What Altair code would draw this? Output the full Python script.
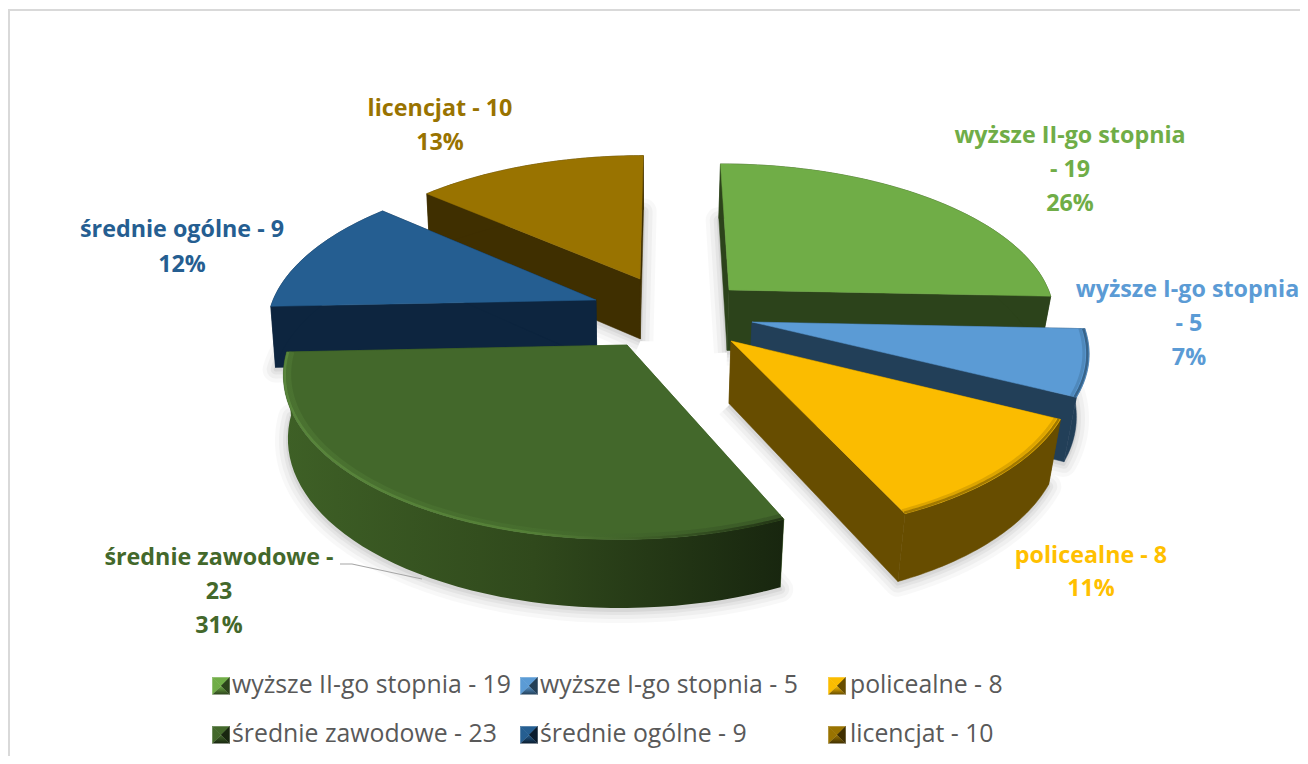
import math
import altair as alt
import pandas as pd

# --- chart values ---
categories = ["wyższe II-go stopnia", "wyższe I-go stopnia", "policealne",
              "średnie zawodowe", "średnie ogólne", "licencjat"]
values = [19, 5, 8, 23, 9, 10]
percents = ["26%", "7%", "11%", "31%", "12%", "13%"]
top_colors = ["#70AD47", "#5B9BD5", "#FBBC00", "#43682B", "#255E91", "#997300"]
text_colors = ["#70AD47", "#5B9BD5", "#FFC000", "#43682B", "#255E91", "#997300"]
wall_colors = ["#2C431B", "#223F58", "#674D00", "#3A5A21", "#0D253F", "#3F2F00"]
key_dark = ["#2C431B", "#223F58", "#674D00", "#18260F", "#0A1C2E", "#3F2F00"]
# exploded wedge apex on the screen, one per category
apex_x = [729, 752, 731, 627, 596, 640]
apex_y = [290, 322, 341, 345, 300, 279]
paint_order = [5, 4, 0, 1, 2, 3]

label_lines = [
    ("licencjat - 10", 440, 108.5, 5), ("13%", 440, 142.5, 5),
    ("wyższe II-go stopnia", 1070, 136, 0), ("- 19", 1070, 170, 0), ("26%", 1070, 204, 0),
    ("wyższe I-go stopnia", 1187.5, 290, 1), ("- 5", 1189, 324, 1), ("7%", 1189, 358, 1),
    ("policealne - 8", 1091, 555.5, 2), ("11%", 1091, 588.5, 2),
    ("średnie zawodowe -", 219, 557.5, 3), ("23", 219, 591.5, 3), ("31%", 219, 625.5, 3),
    ("średnie ogólne - 9", 182, 229.5, 4), ("12%", 182, 264.5, 4),
]
legend_slots = [(221, 686), (529, 686), (837, 686), (221, 735), (529, 735), (837, 735)]
legend_text_x = [232, 540, 850, 232, 540, 850]

# --- projection of the tilted pie ---
CX, CY, R, B, K = 665.0, 330.0, 333.0, 158.0, 0.16
xs = alt.Scale(domain=[8, 1300], range=[0, 1292])
ys = alt.Scale(domain=[8, 756], range=[0, 748])


def project(gx, gq, depth=0.0):
    f = 1 / (1 - K * gq)
    x, y = CX + R * gx * f, CY + B * gq * f
    if depth:
        squeeze = 0.03 if x > CX else 0.012
        x -= squeeze * (x - CX) * (depth / 62)
        y += depth + 6 * gq
    return x, y


def ground(ax, ay):
    v = ay - CY
    q = v / (B + K * v)
    return (ax - CX) / (R / (1 - K * q)), q


total = sum(values)
edges = [0.0]
for v in values:
    edges.append(edges[-1] + v / total * 2 * math.pi)


def arc(i, radius=1.0, depth=0.0, n=48):
    gx, gq = ground(apex_x[i], apex_y[i])
    out = []
    for s in range(n + 1):
        t = edges[i] + (edges[i + 1] - edges[i]) * s / n
        out.append(project(gx + radius * math.sin(t), gq - radius * math.cos(t), depth))
    return out


def tip(i, depth=0.0):
    gx, gq = ground(apex_x[i], apex_y[i])
    return project(gx, gq, depth)


def frame(pts):
    return pd.DataFrame({"x": [p[0] for p in pts], "y": [p[1] for p in pts],
                         "i": list(range(len(pts)))})


def enc(ch):
    return ch.encode(x=alt.X("x:Q", scale=xs, axis=None),
                     y=alt.Y("y:Q", scale=ys, axis=None),
                     order=alt.Order("i:Q"))


def poly(pts, fill, **kw):
    pts = list(pts) + [pts[0]]
    kw.setdefault("stroke", fill if isinstance(fill, str) else None)
    if kw["stroke"] is None:
        kw.pop("stroke")
        kw["strokeOpacity"] = 0
    kw.setdefault("strokeWidth", 0.5)
    return enc(alt.Chart(frame(pts)).mark_line(fill=fill, interpolate="linear", **kw))


def path(pts, color, width, **kw):
    return enc(alt.Chart(frame(pts)).mark_line(stroke=color, strokeWidth=width, interpolate="linear", **kw))


def grad(*colors, x1=0, x2=1, y1=0, y2=0):
    n = len(colors) - 1
    return alt.Gradient(gradient="linear", x1=x1, x2=x2, y1=y1, y2=y2,
                        stops=[alt.GradientStop(offset=j / n, color=c) for j, c in enumerate(colors)])


layers = []

# page frame
layers.append(path([(9, 756), (9, 10), (1300, 10)], "#D9D9D9", 2))

# soft shadow under the wedges
for i in paint_order:
    sh = [tip(i, 64)] + arc(i, depth=64)
    for w, op in [(26, 0.025), (18, 0.03), (10, 0.04), (4, 0.05)]:
        layers.append(poly(sh, "#000000", stroke="#000000", strokeWidth=w, opacity=op, strokeJoin="round"))

for i in paint_order:
    top = arc(i)
    low = arc(i, depth=62)
    wall = wall_colors[i]
    # radial walls and the bottom
    layers.append(poly([tip(i), top[0], low[0], tip(i, 62)], wall))
    layers.append(poly([tip(i), top[-1], low[-1], tip(i, 62)], wall))
    outer_fill = grad("#3E6026", "#30491C", "#18260F") if i == 3 else wall
    layers.append(poly(top + low[::-1], outer_fill))
    # top face and its rounded rim
    layers.append(poly([tip(i)] + top, top_colors[i]))
    if i == 3:
        layers.append(path(arc(i, radius=0.985), grad("#5C8A3E", "#4E7A34", "#24361A"), 5, opacity=0.3))
        layers.append(path(arc(i, radius=0.996), grad("#5C8A3E", "#568238", "#1E2E12"), 2.5, opacity=0.85))
    elif i in (1, 2):
        layers.append(path(arc(i, radius=0.985), wall, 3, opacity=0.2))
        layers.append(path(arc(i, radius=0.995), wall, 2.5, opacity=0.6))

# leader line of the largest slice
layers.append(path([(340, 564), (352, 564), (422, 579)], "#A6A6A6", 1.2))

# data labels
lab = pd.DataFrame(label_lines, columns=["t", "x", "y", "c"])
lab["col"] = [text_colors[c] for c in lab["c"]]
layers.append(alt.Chart(lab).mark_text(font="Open Sans", fontWeight="bold", fontSize=23.3,
                                       align="center", baseline="middle").encode(
    x=alt.X("x:Q", scale=xs, axis=None), y=alt.Y("y:Q", scale=ys, axis=None),
    text="t:N", color=alt.Color("col:N", scale=None, legend=None)))

# legend keys (bevelled squares) and names
for k, (kx, ky) in enumerate(legend_slots):
    h = 8.5
    c = (kx, ky)
    a, b2, d, e = (kx - h, ky - h), (kx + h, ky - h), (kx + h, ky + h), (kx - h, ky + h)
    layers.append(poly([a, b2, c], top_colors[k]))
    layers.append(poly([e, a, c], top_colors[k]))
    layers.append(poly([b2, d, c], key_dark[k]))
    layers.append(poly([d, e, c], grad(top_colors[k], key_dark[k], x2=0, y2=1)))

leg = pd.DataFrame({"t": [f"{n} - {v}" for n, v in zip(categories, values)],
                    "x": legend_text_x, "y": [s[1] for s in legend_slots]})
layers.append(alt.Chart(leg).mark_text(font="Open Sans", fontSize=24.8, color="#595959",
                                       align="left", baseline="middle").encode(
    x=alt.X("x:Q", scale=xs, axis=None), y=alt.Y("y:Q", scale=ys, axis=None), text="t:N"))

chart = alt.layer(*layers).properties(width=1292, height=748, padding=0,
                                      autosize=alt.AutoSizeParams(type="none"),
                                      background="white").configure_view(stroke=None)
chart.save("out.html", embed_options={"renderer": "svg", "actions": False})
